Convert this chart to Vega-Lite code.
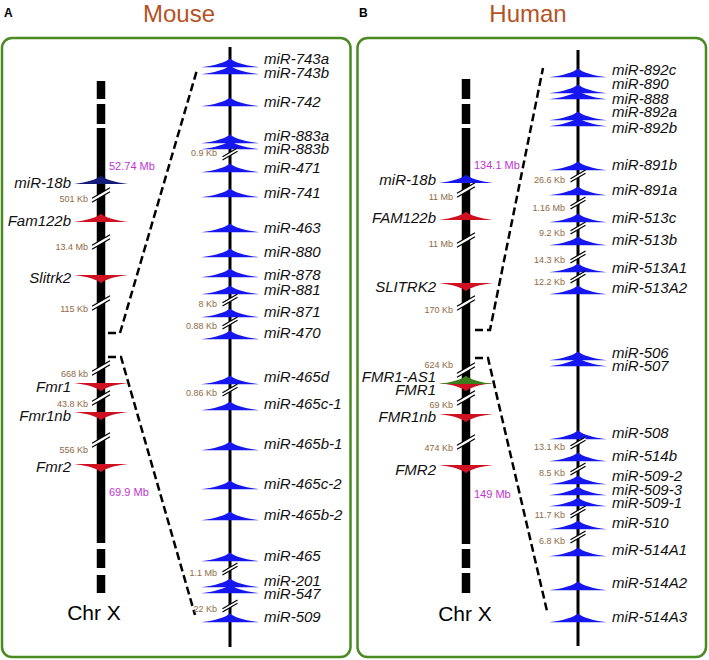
{
  "$schema": "https://vega.github.io/schema/vega-lite/v6.json",
  "width": 709,
  "height": 660,
  "autosize": {"type": "fit", "contains": "padding"},
  "padding": 0,
  "background": "white",
  "config": {"view": {"stroke": null}, "text": {"font": "Liberation Sans"}},
  "datasets": {
    "panels": [
      {"panel": "Mouse", "x": 2, "x2": 350.5, "y": 38, "y2": 657},
      {"panel": "Human", "x": 357.5, "x2": 706, "y": 38, "y2": 657}
    ],
    "titles": [
      {"kind": "species", "text": "Mouse", "x": 179, "y": 15},
      {"kind": "species", "text": "Human", "x": 528, "y": 15},
      {"kind": "letter", "text": "A", "x": 4, "y": 13},
      {"kind": "letter", "text": "B", "x": 359, "y": 13},
      {"kind": "chr", "text": "Chr X", "x": 94, "y": 614},
      {"kind": "chr", "text": "Chr X", "x": 465, "y": 615}
    ],
    "bars": [
      {"kind": "chr", "x": 101, "y": 81, "y2": 99},
      {"kind": "chr", "x": 101, "y": 104, "y2": 124},
      {"kind": "chr", "x": 101, "y": 128, "y2": 543},
      {"kind": "chr", "x": 101, "y": 549, "y2": 568},
      {"kind": "chr", "x": 101, "y": 575, "y2": 593},
      {"kind": "chr", "x": 466, "y": 79, "y2": 99},
      {"kind": "chr", "x": 466, "y": 104, "y2": 124},
      {"kind": "chr", "x": 466, "y": 128, "y2": 544},
      {"kind": "chr", "x": 466, "y": 549, "y2": 568},
      {"kind": "chr", "x": 466, "y": 573, "y2": 593},
      {"kind": "cluster", "x": 230, "y": 47, "y2": 647},
      {"kind": "cluster", "x": 578, "y": 50, "y2": 646}
    ],
    "connectors": [
      {"id": "m1", "ord": 1, "x": 108, "y": 333},
      {"id": "m1", "ord": 2, "x": 120, "y": 333},
      {"id": "m1", "ord": 3, "x": 197, "y": 70},
      {"id": "m2", "ord": 1, "x": 108, "y": 357},
      {"id": "m2", "ord": 2, "x": 121, "y": 357},
      {"id": "m2", "ord": 3, "x": 195, "y": 615},
      {"id": "h1", "ord": 1, "x": 475, "y": 330},
      {"id": "h1", "ord": 2, "x": 490, "y": 330},
      {"id": "h1", "ord": 3, "x": 543, "y": 68},
      {"id": "h2", "ord": 1, "x": 475, "y": 358},
      {"id": "h2", "ord": 2, "x": 488, "y": 358},
      {"id": "h2", "ord": 3, "x": 547, "y": 611}
    ],
    "positions": [
      {"text": "52.74 Mb", "x": 101, "y": 167},
      {"text": "69.9 Mb", "x": 101, "y": 493},
      {"text": "134.1 Mb", "x": 466, "y": 166},
      {"text": "149 Mb", "x": 466, "y": 495}
    ],
    "features": [
      {"track": "chr", "name": "miR-18b", "x": 101, "y": 180, "ly": 183, "strand": "+", "feature": "miRNA (mouse miR-18b)"},
      {"track": "chr", "name": "Fam122b", "x": 101, "y": 218, "ly": 221, "strand": "+", "feature": "gene"},
      {"track": "chr", "name": "Slitrk2", "x": 101, "y": 279, "ly": 278, "strand": "-", "feature": "gene"},
      {"track": "chr", "name": "Fmr1", "x": 101, "y": 387, "ly": 387, "strand": "-", "feature": "gene"},
      {"track": "chr", "name": "Fmr1nb", "x": 101, "y": 416, "ly": 416, "strand": "-", "feature": "gene"},
      {"track": "chr", "name": "Fmr2", "x": 101, "y": 468, "ly": 467, "strand": "-", "feature": "gene"},
      {"track": "cluster", "name": "miR-743a", "x": 230, "y": 63, "ly": 59, "strand": "+", "feature": "miRNA"},
      {"track": "cluster", "name": "miR-743b", "x": 230, "y": 70, "ly": 73, "strand": "+", "feature": "miRNA"},
      {"track": "cluster", "name": "miR-742", "x": 230, "y": 102, "ly": 102, "strand": "+", "feature": "miRNA"},
      {"track": "cluster", "name": "miR-883a", "x": 230, "y": 139, "ly": 136, "strand": "+", "feature": "miRNA"},
      {"track": "cluster", "name": "miR-883b", "x": 230, "y": 145, "ly": 149, "strand": "+", "feature": "miRNA"},
      {"track": "cluster", "name": "miR-471", "x": 230, "y": 168, "ly": 168, "strand": "+", "feature": "miRNA"},
      {"track": "cluster", "name": "miR-741", "x": 230, "y": 193, "ly": 193, "strand": "+", "feature": "miRNA"},
      {"track": "cluster", "name": "miR-463", "x": 230, "y": 228, "ly": 228, "strand": "+", "feature": "miRNA"},
      {"track": "cluster", "name": "miR-880", "x": 230, "y": 253, "ly": 252, "strand": "+", "feature": "miRNA"},
      {"track": "cluster", "name": "miR-878", "x": 230, "y": 273, "ly": 275, "strand": "+", "feature": "miRNA"},
      {"track": "cluster", "name": "miR-881", "x": 230, "y": 290, "ly": 290, "strand": "+", "feature": "miRNA"},
      {"track": "cluster", "name": "miR-871", "x": 230, "y": 313, "ly": 312, "strand": "+", "feature": "miRNA"},
      {"track": "cluster", "name": "miR-470", "x": 230, "y": 335, "ly": 333, "strand": "+", "feature": "miRNA"},
      {"track": "cluster", "name": "miR-465d", "x": 230, "y": 380, "ly": 377, "strand": "+", "feature": "miRNA"},
      {"track": "cluster", "name": "miR-465c-1", "x": 230, "y": 406, "ly": 404, "strand": "+", "feature": "miRNA"},
      {"track": "cluster", "name": "miR-465b-1", "x": 230, "y": 446, "ly": 444, "strand": "+", "feature": "miRNA"},
      {"track": "cluster", "name": "miR-465c-2", "x": 230, "y": 485, "ly": 484, "strand": "+", "feature": "miRNA"},
      {"track": "cluster", "name": "miR-465b-2", "x": 230, "y": 516, "ly": 515, "strand": "+", "feature": "miRNA"},
      {"track": "cluster", "name": "miR-465", "x": 230, "y": 557, "ly": 556, "strand": "+", "feature": "miRNA"},
      {"track": "cluster", "name": "miR-201", "x": 230, "y": 583, "ly": 581, "strand": "+", "feature": "miRNA"},
      {"track": "cluster", "name": "miR-547", "x": 230, "y": 589, "ly": 594, "strand": "+", "feature": "miRNA"},
      {"track": "cluster", "name": "miR-509", "x": 230, "y": 618, "ly": 617, "strand": "+", "feature": "miRNA"},
      {"track": "chr", "name": "miR-18b", "x": 466, "y": 179, "ly": 180, "strand": "+", "feature": "miRNA"},
      {"track": "chr", "name": "FAM122b", "x": 466, "y": 216, "ly": 218, "strand": "+", "feature": "gene"},
      {"track": "chr", "name": "SLITRK2", "x": 466, "y": 287, "ly": 287, "strand": "-", "feature": "gene"},
      {"track": "chr", "name": "FMR1", "x": 466, "y": 387, "ly": 390, "strand": "-", "feature": "gene"},
      {"track": "chr", "name": "FMR1-AS1", "x": 466, "y": 380, "ly": 377, "strand": "+", "feature": "antisense RNA"},
      {"track": "chr", "name": "FMR1nb", "x": 466, "y": 418, "ly": 417, "strand": "-", "feature": "gene"},
      {"track": "chr", "name": "FMR2", "x": 466, "y": 469, "ly": 470, "strand": "-", "feature": "gene"},
      {"track": "cluster", "name": "miR-892c", "x": 578, "y": 73, "ly": 70, "strand": "+", "feature": "miRNA"},
      {"track": "cluster", "name": "miR-890", "x": 578, "y": 89, "ly": 84, "strand": "+", "feature": "miRNA"},
      {"track": "cluster", "name": "miR-888", "x": 578, "y": 95, "ly": 99, "strand": "+", "feature": "miRNA"},
      {"track": "cluster", "name": "miR-892a", "x": 578, "y": 116, "ly": 112, "strand": "+", "feature": "miRNA"},
      {"track": "cluster", "name": "miR-892b", "x": 578, "y": 122, "ly": 128, "strand": "+", "feature": "miRNA"},
      {"track": "cluster", "name": "miR-891b", "x": 578, "y": 166, "ly": 165, "strand": "+", "feature": "miRNA"},
      {"track": "cluster", "name": "miR-891a", "x": 578, "y": 191, "ly": 190, "strand": "+", "feature": "miRNA"},
      {"track": "cluster", "name": "miR-513c", "x": 578, "y": 218, "ly": 218, "strand": "+", "feature": "miRNA"},
      {"track": "cluster", "name": "miR-513b", "x": 578, "y": 241, "ly": 240, "strand": "+", "feature": "miRNA"},
      {"track": "cluster", "name": "miR-513A1", "x": 578, "y": 268, "ly": 268, "strand": "+", "feature": "miRNA"},
      {"track": "cluster", "name": "miR-513A2", "x": 578, "y": 290, "ly": 288, "strand": "+", "feature": "miRNA"},
      {"track": "cluster", "name": "miR-506", "x": 578, "y": 356, "ly": 353, "strand": "+", "feature": "miRNA"},
      {"track": "cluster", "name": "miR-507", "x": 578, "y": 362, "ly": 366, "strand": "+", "feature": "miRNA"},
      {"track": "cluster", "name": "miR-508", "x": 578, "y": 435, "ly": 433, "strand": "+", "feature": "miRNA"},
      {"track": "cluster", "name": "miR-514b", "x": 578, "y": 457, "ly": 456, "strand": "+", "feature": "miRNA"},
      {"track": "cluster", "name": "miR-509-2", "x": 578, "y": 480, "ly": 476, "strand": "+", "feature": "miRNA"},
      {"track": "cluster", "name": "miR-509-3", "x": 578, "y": 491, "ly": 490, "strand": "+", "feature": "miRNA"},
      {"track": "cluster", "name": "miR-509-1", "x": 578, "y": 502, "ly": 503, "strand": "+", "feature": "miRNA"},
      {"track": "cluster", "name": "miR-510", "x": 578, "y": 525, "ly": 523, "strand": "+", "feature": "miRNA"},
      {"track": "cluster", "name": "miR-514A1", "x": 578, "y": 552, "ly": 550, "strand": "+", "feature": "miRNA"},
      {"track": "cluster", "name": "miR-514A2", "x": 578, "y": 586, "ly": 583, "strand": "+", "feature": "miRNA"},
      {"track": "cluster", "name": "miR-514A3", "x": 578, "y": 618, "ly": 617, "strand": "+", "feature": "miRNA"}
    ],
    "breaks": [
      {"track": "chr", "x": 101, "y": 195, "ly": 199, "text": "501 Kb"},
      {"track": "chr", "x": 101, "y": 242, "ly": 247, "text": "13.4 Mb"},
      {"track": "chr", "x": 101, "y": 303, "ly": 309, "text": "115 Kb"},
      {"track": "chr", "x": 101, "y": 368, "ly": 374, "text": "668 kb"},
      {"track": "chr", "x": 101, "y": 398, "ly": 404, "text": "43.8 Kb"},
      {"track": "chr", "x": 101, "y": 440, "ly": 450, "text": "556 Kb"},
      {"track": "cluster", "x": 230, "y": 154, "ly": 153, "text": "0.9 Kb"},
      {"track": "cluster", "x": 230, "y": 300, "ly": 304, "text": "8 Kb"},
      {"track": "cluster", "x": 230, "y": 323, "ly": 326, "text": "0.88 Kb"},
      {"track": "cluster", "x": 230, "y": 390, "ly": 393, "text": "0.86 Kb"},
      {"track": "cluster", "x": 230, "y": 569, "ly": 573, "text": "1.1 Mb"},
      {"track": "cluster", "x": 230, "y": 606, "ly": 609, "text": "22 Kb"},
      {"track": "chr", "x": 466, "y": 190, "ly": 197, "text": "11 Mb"},
      {"track": "chr", "x": 466, "y": 240, "ly": 244, "text": "11 Mb"},
      {"track": "chr", "x": 466, "y": 303, "ly": 310, "text": "170 Kb"},
      {"track": "chr", "x": 466, "y": 370, "ly": 365, "text": "624 Kb"},
      {"track": "chr", "x": 466, "y": 398, "ly": 405, "text": "69 Kb"},
      {"track": "chr", "x": 466, "y": 442, "ly": 448, "text": "474 Kb"},
      {"track": "cluster", "x": 578, "y": 176, "ly": 180, "text": "26.6 Kb"},
      {"track": "cluster", "x": 578, "y": 203, "ly": 208, "text": "1.16 Mb"},
      {"track": "cluster", "x": 578, "y": 228, "ly": 233, "text": "9.2 Kb"},
      {"track": "cluster", "x": 578, "y": 257, "ly": 260, "text": "14.3 Kb"},
      {"track": "cluster", "x": 578, "y": 277, "ly": 282, "text": "12.2 Kb"},
      {"track": "cluster", "x": 578, "y": 443, "ly": 447, "text": "13.1 Kb"},
      {"track": "cluster", "x": 578, "y": 469, "ly": 473, "text": "8.5 Kb"},
      {"track": "cluster", "x": 578, "y": 512, "ly": 515, "text": "11.7 Kb"},
      {"track": "cluster", "x": 578, "y": 537, "ly": 541, "text": "6.8 Kb"}
    ]
  },
  "encoding": {
    "x": {"field": "x", "type": "quantitative", "scale": {"domain": [0, 709], "nice": false, "zero": false}, "axis": null},
    "y": {"field": "y", "type": "quantitative", "scale": {"domain": [0, 660], "nice": false, "zero": false, "reverse": true}, "axis": null}
  },
  "layer": [
    {
      "data": {"name": "panels"},
      "mark": {"type": "rect", "cornerRadius": 10, "fill": "white", "stroke": "#4a8a22", "strokeWidth": 2.5},
      "encoding": {"x2": {"field": "x2"}, "y2": {"field": "y2"}}
    },
    {
      "data": {"name": "bars"},
      "transform": [{"filter": "datum.kind === 'chr'"}],
      "mark": {"type": "rule", "strokeWidth": 8.5, "strokeCap": "butt", "color": "black"},
      "encoding": {"y2": {"field": "y2"}}
    },
    {
      "data": {"name": "bars"},
      "transform": [{"filter": "datum.kind === 'cluster'"}],
      "mark": {"type": "rule", "strokeWidth": 3, "strokeCap": "butt", "color": "black"},
      "encoding": {"y2": {"field": "y2"}}
    },
    {
      "data": {"name": "connectors"},
      "mark": {"type": "line", "strokeDash": [8, 4], "strokeWidth": 2.5, "color": "black", "strokeCap": "butt"},
      "encoding": {"detail": {"field": "id", "type": "nominal"}, "order": {"field": "ord", "type": "quantitative"}}
    },
    {
      "data": {"name": "features"},
      "transform": [{"filter": "datum.track === 'chr'"}],
      "mark": {"type": "point", "filled": true, "opacity": 1, "size": 2916, "strokeWidth": 0},
      "encoding": {
        "shape": {"field": "strand", "type": "nominal", "scale": {"domain": ["+", "-"], "range": ["M0,-0.155 C0.15,-0.03 0.5,0.09 1,0.145 L-1,0.145 C-0.5,0.09 -0.15,-0.03 0,-0.155 Z", "M0,0.155 C0.15,0.03 0.5,-0.09 1,-0.145 L-1,-0.145 C-0.5,-0.09 -0.15,0.03 0,0.155 Z"]}, "legend": null},
        "color": {"field": "feature", "type": "nominal", "scale": {"domain": ["miRNA", "miRNA (mouse miR-18b)", "gene", "antisense RNA"], "range": ["#1616ee", "#131c78", "#cf1020", "#3a7d1a"]}, "legend": null}
      }
    },
    {
      "data": {"name": "features"},
      "transform": [{"filter": "datum.track === 'cluster'"}],
      "mark": {"type": "point", "filled": true, "opacity": 1, "size": 3364, "strokeWidth": 0},
      "encoding": {
        "shape": {"field": "strand", "type": "nominal", "scale": {"domain": ["+", "-"], "range": ["M0,-0.155 C0.15,-0.03 0.5,0.09 1,0.145 L-1,0.145 C-0.5,0.09 -0.15,-0.03 0,-0.155 Z", "M0,0.155 C0.15,0.03 0.5,-0.09 1,-0.145 L-1,-0.145 C-0.5,-0.09 -0.15,0.03 0,0.155 Z"]}, "legend": null},
        "color": {"field": "feature", "type": "nominal", "scale": {"domain": ["miRNA", "miRNA (mouse miR-18b)", "gene", "antisense RNA"], "range": ["#1616ee", "#131c78", "#cf1020", "#3a7d1a"]}, "legend": null}
      }
    },
    {
      "data": {"name": "breaks"},
      "mark": {"type": "point", "shape": "M-0.9,0.325 L0.9,-0.725 L0.9,-0.325 L-0.9,0.725 Z", "filled": true, "fill": "white", "opacity": 1, "strokeWidth": 0},
      "encoding": {"size": {"field": "track", "type": "ordinal", "scale": {"domain": ["chr", "cluster"], "range": [400, 280]}, "legend": null}}
    },
    {
      "data": {"name": "breaks"},
      "mark": {"type": "point", "shape": "M-0.9,0.325 L0.9,-0.725 M-0.9,0.725 L0.9,-0.325", "filled": false, "stroke": "black", "opacity": 1, "strokeWidth": 1.2},
      "encoding": {"size": {"field": "track", "type": "ordinal", "scale": {"domain": ["chr", "cluster"], "range": [400, 280]}, "legend": null}}
    },
    {
      "data": {"name": "features"},
      "transform": [{"filter": "datum.track === 'chr'"}],
      "mark": {"type": "text", "align": "right", "baseline": "middle", "dx": -30, "fontSize": 15, "fontStyle": "italic", "color": "#111111"},
      "encoding": {
        "y": {"field": "ly", "type": "quantitative", "scale": {"domain": [0, 660], "nice": false, "zero": false, "reverse": true}, "axis": null},
        "text": {"field": "name"}
      }
    },
    {
      "data": {"name": "features"},
      "transform": [{"filter": "datum.track === 'cluster'"}],
      "mark": {"type": "text", "align": "left", "baseline": "middle", "dx": 34, "fontSize": 15, "fontStyle": "italic", "color": "#111111"},
      "encoding": {
        "y": {"field": "ly", "type": "quantitative", "scale": {"domain": [0, 660], "nice": false, "zero": false, "reverse": true}, "axis": null},
        "text": {"field": "name"}
      }
    },
    {
      "data": {"name": "breaks"},
      "mark": {"type": "text", "align": "right", "baseline": "middle", "dx": -13, "fontSize": 9, "color": "#8f6a45"},
      "encoding": {
        "y": {"field": "ly", "type": "quantitative", "scale": {"domain": [0, 660], "nice": false, "zero": false, "reverse": true}, "axis": null},
        "text": {"field": "text"}
      }
    },
    {
      "data": {"name": "positions"},
      "mark": {"type": "text", "align": "left", "baseline": "middle", "dx": 8, "fontSize": 11, "color": "#c034d0"},
      "encoding": {"text": {"field": "text"}}
    },
    {
      "data": {"name": "titles"},
      "transform": [{"filter": "datum.kind === 'species'"}],
      "mark": {"type": "text", "align": "center", "baseline": "middle", "fontSize": 24, "color": "#b5531f"},
      "encoding": {"text": {"field": "text"}}
    },
    {
      "data": {"name": "titles"},
      "transform": [{"filter": "datum.kind === 'letter'"}],
      "mark": {"type": "text", "align": "left", "baseline": "middle", "fontSize": 12, "fontWeight": "bold", "color": "#000000"},
      "encoding": {"text": {"field": "text"}}
    },
    {
      "data": {"name": "titles"},
      "transform": [{"filter": "datum.kind === 'chr'"}],
      "mark": {"type": "text", "align": "center", "baseline": "middle", "fontSize": 21, "color": "#000000"},
      "encoding": {"text": {"field": "text"}}
    }
  ]
}
